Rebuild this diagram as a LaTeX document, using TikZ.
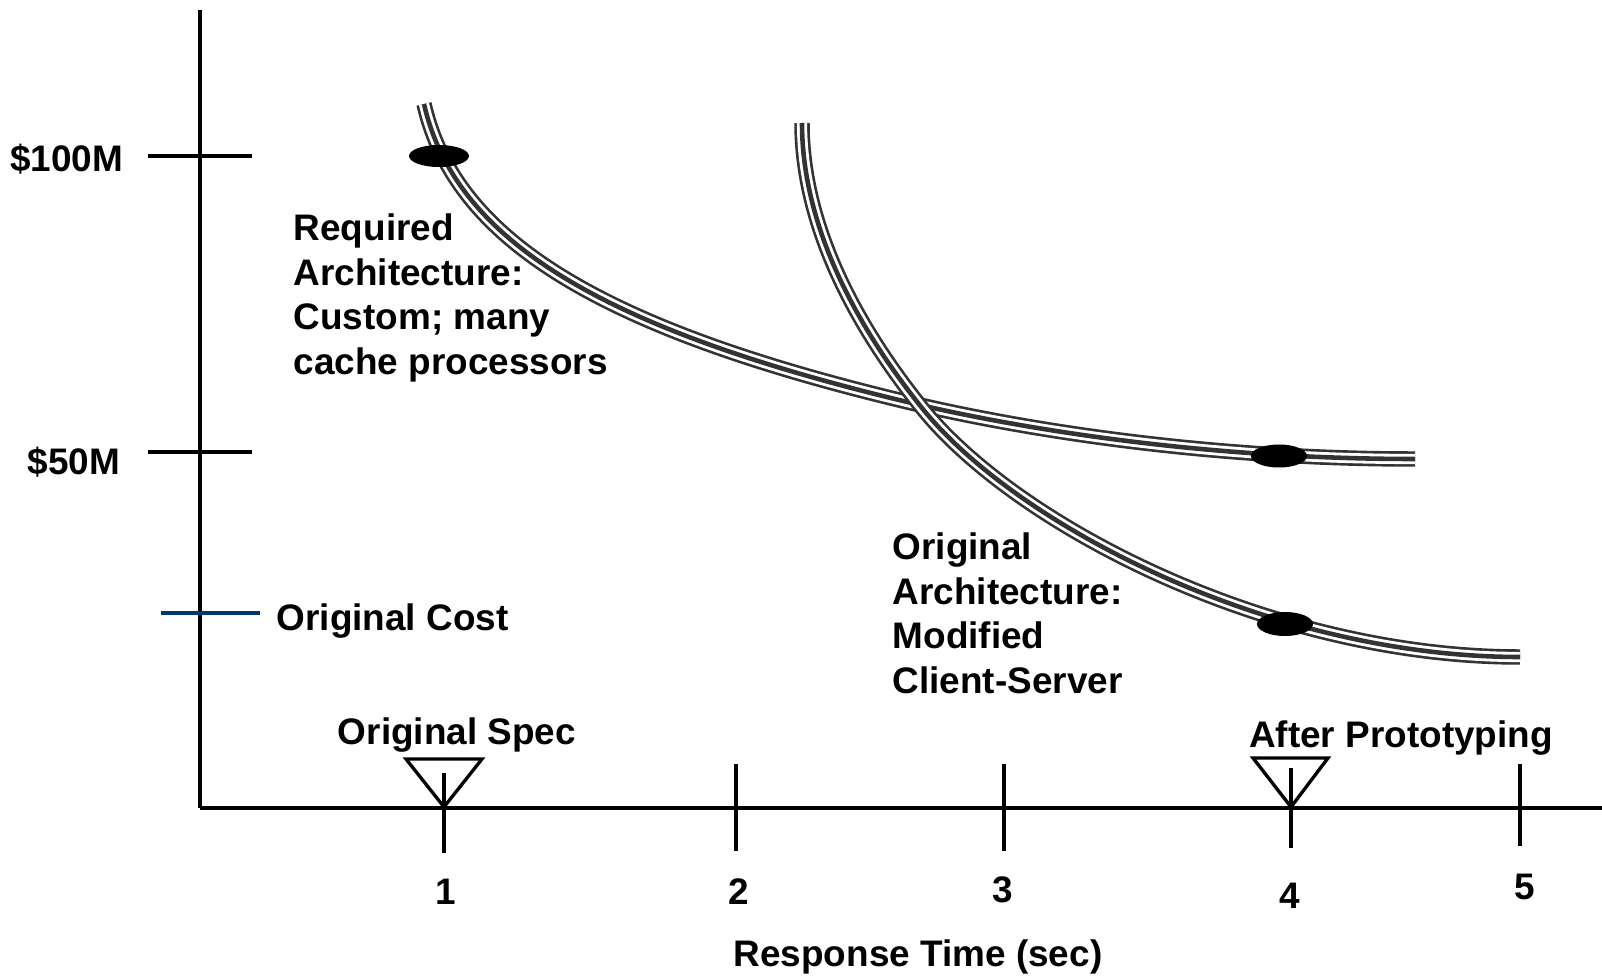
\documentclass[tikz,border=0pt]{standalone}
\usepackage{fontspec}
\setmainfont{Liberation Sans}
\usetikzlibrary{positioning}
\definecolor{curvegray}{RGB}{51,51,51}
\definecolor{costblue}{RGB}{0,56,110}

% triple-stroke trade-off curve
\newcommand{\tradecurve}[1]{%
    \draw[curvegray, line width=4.4pt] #1;
    \draw[white, line width=2.9pt]     #1;
    \draw[curvegray, line width=1.3pt] #1;
}

\begin{document}
\begin{tikzpicture}[
    x=0.01cm, y=-0.01cm,
    lbl/.style={font=\fontsize{10.5}{12.7}\selectfont\bfseries, inner sep=0pt},
    axisline/.style={line width=1pt},
    tickline/.style={line width=0.95pt}
]

\useasboundingbox (0,0) rectangle (1602,976);

% ============================================================
% Global dimensions
% ============================================================
\def\axisX{200}
\def\axisY{808}

% ============================================================
% Axes
% ============================================================
\draw[axisline] (\axisX,10) -- (\axisX,\axisY);
\draw[axisline] (\axisX,\axisY) -- (1602,\axisY);

% Cost ticks
\draw[tickline] (148,156) -- (252,156);
\draw[tickline] (148,452) -- (252,452);
\draw[costblue, line width=1pt] (161,613) -- (260,613);

\node[lbl, anchor=base east] (cost100) at (124,172) {\$100M};
\node[lbl, anchor=base east] (cost50) at (121,475) {\$50M};
\node[lbl, anchor=base west] (origcost) at (276,630) {Original Cost};

% Time ticks
\foreach \x in {736,1004} {
    \draw[tickline] (\x,764) -- (\x,851);
}
\draw[tickline] (1520,764) -- (1520,846);
\draw[tickline] (444,773) -- (444,853);
\draw[tickline] (1291,768) -- (1291,848);

\node[lbl, anchor=base] (t1) at (446,904) {1};
\node[lbl, anchor=base] (t2) at (739,904) {2};
\node[lbl, anchor=base] (t3) at (1003,902) {3};
\node[lbl, anchor=base] (t4) at (1290,908) {4};
\node[lbl, anchor=base] (t5) at (1525,899) {5};

\node[lbl, anchor=base] (xtitle) at (918,966) {Response Time (sec)};

% ============================================================
% Spec markers
% ============================================================
\draw[tickline, line join=miter] (406,759) -- (482,759) -- (444,807) -- cycle;
\draw[tickline, line join=miter] (1253,758) -- (1328,758) -- (1291,807) -- cycle;

\node[lbl, anchor=base] (origspec) at (457,744) {Original Spec};
\node[lbl, anchor=base] (afterproto) at (1401,747) {After Prototyping};

% ============================================================
% Trade-off curves
% ============================================================
% Required architecture
\tradecurve{(424,104) .. controls (455,240) and (600,330) .. (920,405)
    .. controls (1020,428) and (1200,459) .. (1415,459)}

% Original architecture
\tradecurve{(802,123) .. controls (802,223) and (853,322) .. (922,408)
    .. controls (1016,525) and (1270,657) .. (1520,657)}

% Design points
\fill (439,156) ellipse [x radius=30, y radius=11];
\fill (1279,456) ellipse [x radius=28, y radius=11.5];
\fill (1285,624) ellipse [x radius=28, y radius=12];

% Curve labels
\node[lbl, anchor=north west, align=left] (reqarch) at (293,213)
    {Required\\Architecture:\\Custom; many\\cache processors};
\node[lbl, anchor=north west, align=left] (origarch) at (892,532)
    {Original\\Architecture:\\Modified\\Client-Server};

\end{tikzpicture}
\end{document}
